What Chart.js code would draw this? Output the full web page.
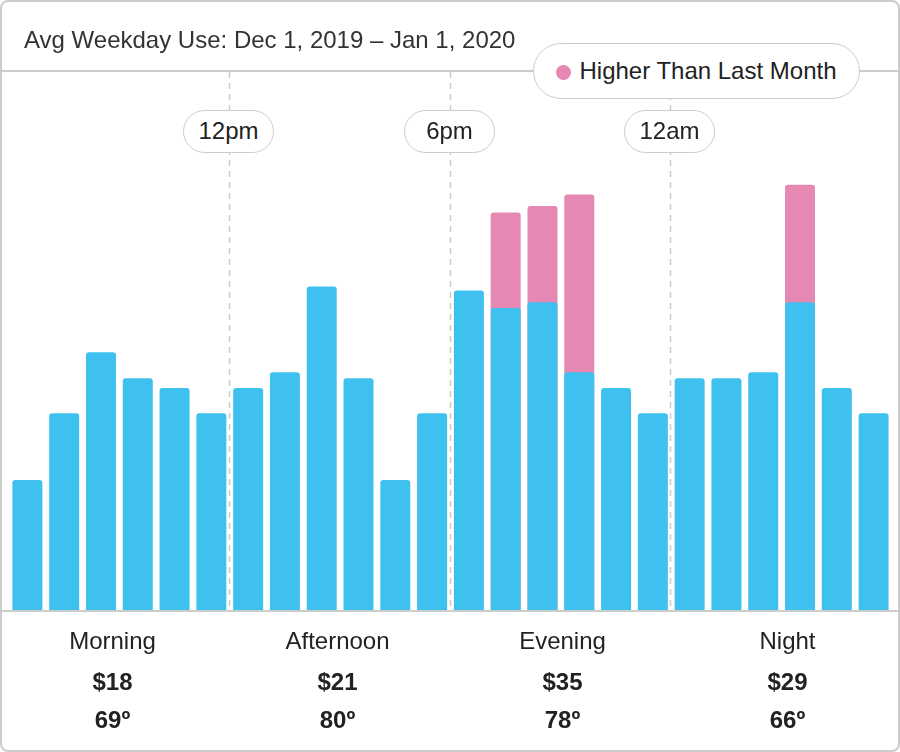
<!DOCTYPE html>
<html>
<head>
<meta charset="utf-8">
<script src="https://cdn.jsdelivr.net/npm/chart.js@4/dist/chart.umd.min.js"></script>
<style>
	body { margin: 0; background: #fff; font-family: "Liberation Sans", Arial, sans-serif; color: #222; }
	.wrap { position: relative; width: 900px; height: 752px; overflow: hidden; }
	.frame { position: absolute; left: 0; top: 0; width: 900px; height: 752px; box-sizing: border-box; border: 2px solid #ccc; border-radius: 8px; pointer-events: none; }
	#use-chart { position: absolute; left: 0; top: 0; }
	.title { position: absolute; left: 24px; top: 26px; font-size: 24px; color: #333; white-space: nowrap; }
	.pill { position: absolute; box-sizing: border-box; background: #fff; border: 1.5px solid #ccc; text-align: center; white-space: nowrap; }
	.legend { left: 533px; top: 43px; width: 327px; height: 56px; border-radius: 28px; font-size: 24px; line-height: 53px; }
	.legend i { display: inline-block; width: 15px; height: 15px; border-radius: 50%; background: #e589b4; margin-right: 8px; vertical-align: -1px; }
	.time { top: 110px; width: 91px; height: 43px; border-radius: 22px; font-size: 24px; line-height: 40px; }
	.footer { position: absolute; left: 0; top: 625px; width: 900px; display: flex; }
	.footer div { width: 225px; text-align: center; font-size: 24px; }
	.footer p { margin: 0; height: 41px; line-height: 32px; }
	.footer b { display: block; height: 38px; line-height: 32px; }
</style>
</head>
<body>
<div class="wrap">
	<canvas id="use-chart" width="900" height="752"></canvas>
	<div class="title">Avg Weekday Use: Dec 1, 2019 – Jan 1, 2020</div>
	<div class="pill legend"><i></i>Higher Than Last Month</div>
	<div id="time-pills"></div>
	<div class="footer" id="footer"></div>
	<div class="frame"></div>
</div>
<script>
const hours = ['6am','7am','8am','9am','10am','11am','12pm','1pm','2pm','3pm','4pm','5pm',
	'6pm','7pm','8pm','9pm','10pm','11pm','12am','1am','2am','3am','4am','5am'];
const usage = [2.0, 3.03, 3.97, 3.57, 3.42, 3.03,
	3.42, 3.66, 4.98, 3.57, 2.0, 3.03,
	4.92, 4.65, 4.74, 3.66, 3.42, 3.03,
	3.57, 3.57, 3.66, 4.74, 3.42, 3.03];
const lastMonthHigher = [null, null, null, null, null, null,
	null, null, null, null, null, null,
	null, 6.12, 6.22, 6.4, null, null,
	null, null, null, 6.55, null, null];
const periods = ['Morning', 'Afternoon', 'Evening', 'Night'];
const costs = ['$18', '$21', '$35', '$29'];
const temps = ['69º', '80º', '78º', '66º'];
const boundaries = [6, 12, 18];

const ctx = document.getElementById('use-chart').getContext('2d');

// header line, baseline and dashed period separators
const guides = {
	id: 'guides',
	beforeDatasetsDraw(chart) {
		const c = chart.ctx;
		const x = chart.scales.x;
		const base = chart.chartArea.bottom;
		c.save();
		c.strokeStyle = '#ccc';
		c.lineWidth = 1.5;
		c.setLineDash([6, 5]);
		boundaries.forEach(b => {
			const px = Math.round((x.getPixelForValue(b - 1) + x.getPixelForValue(b)) / 2) - 0.5;
			c.beginPath();
			c.moveTo(px, 72);
			c.lineTo(px, base);
			c.stroke();
		});
		c.setLineDash([]);
		c.lineWidth = 2;
		c.beginPath();
		c.moveTo(0, 71);
		c.lineTo(900, 71);
		c.stroke();
		c.restore();
	},
	afterDatasetsDraw(chart) {
		const c = chart.ctx;
		const base = chart.chartArea.bottom;
		c.save();
		c.strokeStyle = '#ccc';
		c.lineWidth = 2;
		c.beginPath();
		c.moveTo(0, base + 1);
		c.lineTo(900, base + 1);
		c.stroke();
		c.restore();
	}
};

const useChart = new Chart(ctx, {
	type: 'bar',
	data: {
		labels: hours,
		datasets: [{
			label: 'Use',
			data: usage,
			backgroundColor: '#3fc1f0',
			order: 0,
		}, {
			label: 'Higher Than Last Month',
			data: lastMonthHigher,
			backgroundColor: '#e589b4',
			order: 1,
		}]
	},
	options: {
		responsive: false,
		animation: false,
		layout: { padding: { left: 9, right: 8, top: 71, bottom: 142 } },
		datasets: {
			bar: {
				grouped: false,
				barPercentage: 0.815,
				categoryPercentage: 1,
				borderRadius: 3,
			}
		},
		scales: {
			x: { display: false, offset: true },
			y: { display: false, min: 0, max: 8.3 }
		},
		plugins: { legend: { display: false }, tooltip: { enabled: false } }
	},
	plugins: [guides]
});

function placeTimePills() {
	const x = useChart.scales.x;
	let html = '';
	boundaries.forEach(b => {
		const px = (x.getPixelForValue(b - 1) + x.getPixelForValue(b)) / 2;
		html += `<div class="pill time" style="left:${Math.round(px - 47)}px">${hours[b]}</div>`;
	});
	document.getElementById('time-pills').innerHTML = html;
}

function fillFooter() {
	let html = '';
	periods.forEach((p, idx) => {
		html += `<div><p>${p}</p><b>${costs[idx]}</b><b>${temps[idx]}</b></div>`;
	});
	document.getElementById('footer').innerHTML = html;
}

placeTimePills();
fillFooter();
</script>
</body>
</html>
